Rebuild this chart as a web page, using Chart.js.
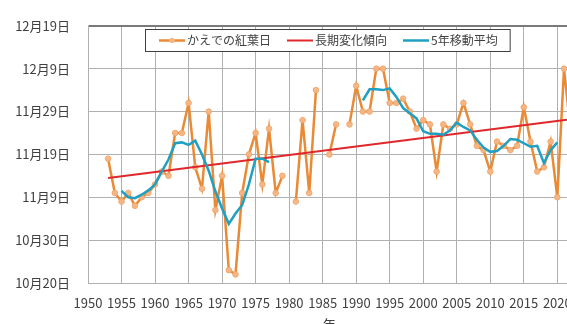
<!DOCTYPE html>
<html>
<head>
<meta charset="utf-8">
<script src="https://cdn.jsdelivr.net/npm/chart.js@4.4.1/dist/chart.umd.min.js"></script>
<style>
  html, body { margin: 0; padding: 0; background: #fff; overflow: hidden; }
  #wrap { width: 584px; height: 336px; }
</style>
</head>
<body>
<div id="wrap"><canvas id="chart" width="584" height="336"></canvas></div>
<script>
// 値は10月20日からの日数
var seriesNames = ['かえでの紅葉日', '長期変化傾向', '5年移動平均'];
var yTickLabels = ['10月20日', '10月30日', '11月9日', '11月19日', '11月29日', '12月9日', '12月19日'];
var xTickLabels = [1950, 1955, 1960, 1965, 1970, 1975, 1980, 1985, 1990, 1995, 2000, 2005, 2010, 2015, 2020];

var years = [1953, 1954, 1955, 1956, 1957, 1958, 1959, 1960, 1961, 1962,
  1963, 1964, 1965, 1966, 1967, 1968, 1969, 1970, 1971, 1972,
  1973, 1974, 1975, 1976, 1977, 1978, 1979, 1980, 1981, 1982,
  1983, 1984, 1985, 1986, 1987, 1988, 1989, 1990, 1991, 1992,
  1993, 1994, 1995, 1996, 1997, 1998, 1999, 2000, 2001, 2002,
  2003, 2004, 2005, 2006, 2007, 2008, 2009, 2010, 2011, 2012,
  2013, 2014, 2015, 2016, 2017, 2018, 2019, 2020, 2021, 2022];

var kouyou = [29, 21, 19, 21, 18, 20, 21, 23, 26, 25,
  35, 35, 42, 27, 22, 40, 17, 25, 3, 2,
  21, 30, 35, 23, 36, 21, 25, null, 19, 38,
  21, 45, null, 30, 37, null, 37, 46, 40, 40,
  50, 50, 42, 42, 43, 40, 36, 38, 37, 26,
  37, 36, 37, 42, 37, 32, 31, 26, 33, 32,
  31, 32, 41, 33, 26, 27, 33, 20, 50, 35];

var idou5 = [null, null, 21.5, 20, 19.8, 20.6, 21.6, 23, 26, 28.8,
  32.6, 32.8, 32.2, 33.2, 30, 26.2, 21.4, 17.4, 13.8, 16.2,
  18.2, 23, 29, 29, 28.2, null, null, null, null, null,
  null, null, null, null, null, null, null, null, 42.6, 45.2,
  45.2, 45, 45.4, 43.4, 40.8, 39.6, 38.4, 35.4, 34.8, 34.8,
  34.6, 35.6, 37.4, 36.4, 35.6, 33.4, 31.6, 30.6, 30.8, 32,
  33.6, 33.4, 32.6, 31.8, 32, 28, 31, 32.8, null, null];

var trendYears = [1953, 2022];
var trendValues = [24.5, 38.2];

function pairs(xs, ys) {
  return xs.map(function(x, i) { return { x: x, y: ys[i] }; });
}

var gridColor = '#b0b0b0';
var textColor = '#404040';
var jpFont = '"Noto Sans CJK JP", "Noto Sans", sans-serif';

// 枠付きの凡例をプロット内に描く
var boxLegend = {
  id: 'boxLegend',
  afterDraw: function(chart) {
    var ctx = chart.ctx;
    var left = 145, top = 29, h = 22;
    ctx.save();
    ctx.font = '12px ' + jpFont;
    var w = 14;
    chart.data.datasets.forEach(function(ds, i) {
      w += 26 + 2 + ctx.measureText(ds.label).width + (i < 2 ? 16 : 12);
    });
    ctx.fillStyle = '#fff';
    ctx.fillRect(left, top, w, h);
    ctx.strokeStyle = '#404040';
    ctx.lineWidth = 1;
    ctx.strokeRect(left + 0.5, top + 0.5, w, h);
    var x = left + 14, cy = top + h / 2 + 0.5;
    chart.data.datasets.forEach(function(ds, i) {
      ctx.strokeStyle = ds.borderColor;
      ctx.lineWidth = ds.borderWidth;
      ctx.beginPath();
      ctx.moveTo(x, cy);
      ctx.lineTo(x + 26, cy);
      ctx.stroke();
      if (ds.pointRadius > 0) {
        ctx.fillStyle = ds.pointBackgroundColor;
        ctx.beginPath();
        ctx.arc(x + 13, cy, ds.pointRadius, 0, Math.PI * 2);
        ctx.fill();
      }
      ctx.fillStyle = textColor;
      ctx.textBaseline = 'middle';
      ctx.fillText(ds.label, x + 28, cy);
      x += 26 + 2 + ctx.measureText(ds.label).width + 16;
    });
    ctx.restore();
  }
};

var mychart = new Chart(document.getElementById('chart'), {
  type: 'line',
  data: {
    datasets: [{
      label: seriesNames[0],
      data: pairs(years, kouyou),
      borderColor: '#EA8A34',
      borderWidth: 2.5,
      pointRadius: 2.8,
      pointBackgroundColor: 'rgba(245,182,134,0.95)',
      pointBorderColor: 'rgba(240,165,105,0.9)',
      pointBorderWidth: 1,
      spanGaps: false,
      tension: 0,
      order: 2
    }, {
      label: seriesNames[1],
      data: pairs(trendYears, trendValues),
      borderColor: '#E0282C',
      borderWidth: 2,
      pointRadius: 0,
      tension: 0,
      order: 1
    }, {
      label: seriesNames[2],
      data: pairs(years, idou5),
      borderColor: '#1FA0C2',
      borderWidth: 2.5,
      pointRadius: 0,
      spanGaps: false,
      tension: 0,
      order: 0
    }]
  },
  options: {
    responsive: false,
    animation: false,
    devicePixelRatio: 1,
    layout: { padding: { left: 0, top: 21, right: 9, bottom: 0 } },
    plugins: {
      legend: { display: false },
      tooltip: { enabled: false }
    },
    scales: {
      x: {
        type: 'linear',
        min: 1950,
        max: 2022,
        afterBuildTicks: function(s) {
          s.ticks = xTickLabels.map(function(v) { return { value: v }; });
        },
        ticks: {
          autoSkip: false,
          maxRotation: 0,
          padding: 12,
          color: textColor,
          font: { family: jpFont, size: 13 },
          callback: function(v) { return String(v); }
        },
        grid: { color: gridColor, drawTicks: false },
        border: { color: gridColor },
        title: {
          display: true,
          text: '年',
          color: textColor,
          font: { family: jpFont, size: 13 },
          padding: { top: 0, bottom: 4 }
        },
        afterFit: function(s) { s.height = 53; }
      },
      y: {
        min: 0,
        max: 60,
        ticks: {
          stepSize: 10,
          padding: 18,
          color: textColor,
          font: { family: jpFont, size: 13 },
          callback: function(v) { return yTickLabels[v / 10]; }
        },
        grid: {
          color: function(c) { return c.tick && c.tick.value === 60 ? '#7a7a7a' : gridColor; },
          lineWidth: function(c) { return c.tick && c.tick.value === 60 ? 2 : 1; },
          drawTicks: false
        },
        border: { color: gridColor },
        afterFit: function(s) { s.width = 88; }
      }
    }
  },
  plugins: [boxLegend]
});
</script>
</body>
</html>
